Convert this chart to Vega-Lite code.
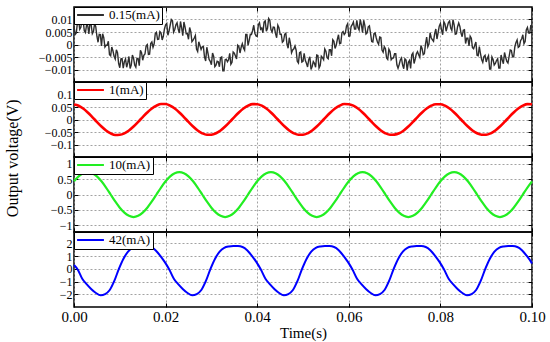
{
 "$schema": "https://vega.github.io/schema/vega-lite/v6.json",
 "background": "white",
 "padding": 5,
 "spacing": 0,
 "bounds": "flush",
 "title": {"text": "Output voltage(V)", "orient": "left", "anchor": "middle", "fontSize": 16, "font": "Liberation Serif", "fontWeight": "normal", "color": "black", "offset": 8, "dx": 15},
 "config": {
  "font": "Liberation Serif",
  "view": {"stroke": "black", "strokeWidth": 1.5},
  "concat": {"spacing": 0},
  "axis": {"domain": false, "tickColor": "black", "tickSize": -4, "tickWidth": 1, "labelColor": "black", "labelFont": "Liberation Serif", "labelFontSize": 12, "titleFont": "Liberation Serif", "titleFontWeight": "normal", "titleColor": "black", "gridColor": "#8a8a8a", "gridDash": [2, 2], "gridWidth": 0.8, "labelPadding": 6, "labelOverlap": false, "labelFlush": false},
  "axisY": {"minExtent": 44},
  "legend": {"orient": "top-left", "offset": 0, "padding": 2, "strokeColor": "black", "fillColor": "white", "symbolStrokeWidth": 2, "symbolSize": 720, "labelFontSize": 13, "labelFont": "Liberation Serif", "labelColor": "black", "labelOffset": 4, "clipHeight": 12, "cornerRadius": 0}
 },
 "resolve": {"scale": {"color": "independent"}, "legend": {"color": "independent"}},
 "datasets": {
  "gray": [
{"t":0,"v":0.0073},{"t":0.0005,"v":0.0046},{"t":0.001,"v":0.0099},{"t":0.0015,"v":0.0069},{"t":0.002,"v":0.0094},{"t":0.0025,"v":0.0048},{"t":0.003,"v":0.0075},{"t":0.0035,"v":0.0089},{"t":0.004,"v":0.0043},{"t":0.0045,"v":0.0084},
{"t":0.005,"v":0.0033},{"t":0.0055,"v":0.0041},{"t":0.006,"v":-0.0006},{"t":0.0065,"v":0.0027},{"t":0.007,"v":-0.0003},{"t":0.0075,"v":0.0013},{"t":0.008,"v":-0.0045},{"t":0.0085,"v":-0.0025},{"t":0.009,"v":-0.0058},{"t":0.0095,"v":-0.0033},
{"t":0.01,"v":-0.0093},{"t":0.0105,"v":-0.0056},{"t":0.011,"v":-0.0069},{"t":0.0115,"v":-0.0091},{"t":0.012,"v":-0.0048},{"t":0.0125,"v":-0.0082},{"t":0.013,"v":-0.0055},{"t":0.0135,"v":-0.0091},{"t":0.014,"v":-0.0056},{"t":0.0145,"v":-0.0023},
{"t":0.015,"v":-0.0063},{"t":0.0155,"v":-0.0038},{"t":0.016,"v":0},{"t":0.0165,"v":-0.0039},{"t":0.017,"v":0.001},{"t":0.0175,"v":0.0003},{"t":0.018,"v":0.0049},{"t":0.0185,"v":0.0021},{"t":0.019,"v":0.0047},{"t":0.0195,"v":0.0033},
{"t":0.02,"v":0.0079},{"t":0.0205,"v":0.0037},{"t":0.021,"v":0.0077},{"t":0.0215,"v":0.0095},{"t":0.022,"v":0.006},{"t":0.0225,"v":0.0087},{"t":0.023,"v":0.0046},{"t":0.0235,"v":0.0067},{"t":0.024,"v":0.009},{"t":0.0245,"v":0.0043},
{"t":0.025,"v":0.0021},{"t":0.0255,"v":0.0051},{"t":0.026,"v":0.0017},{"t":0.0265,"v":0.0036},{"t":0.027,"v":-0.0028},{"t":0.0275,"v":-0.0004},{"t":0.028,"v":-0.0009},{"t":0.0285,"v":-0.005},{"t":0.029,"v":-0.0011},{"t":0.0295,"v":-0.006},
{"t":0.03,"v":-0.0081},{"t":0.0305,"v":-0.0048},{"t":0.031,"v":-0.0083},{"t":0.0315,"v":-0.0069},{"t":0.032,"v":-0.0053},{"t":0.0325,"v":-0.0105},{"t":0.033,"v":-0.0061},{"t":0.0335,"v":-0.0069},{"t":0.034,"v":-0.0035},{"t":0.0345,"v":-0.0071},
{"t":0.035,"v":-0.0035},{"t":0.0355,"v":-0.0058},{"t":0.036,"v":-0.0008},{"t":0.0365,"v":-0.0011},{"t":0.037,"v":-0.0014},{"t":0.0375,"v":0.004},{"t":0.038,"v":-0.0003},{"t":0.0385,"v":0.0041},{"t":0.039,"v":0.0056},{"t":0.0395,"v":0.0044},
{"t":0.04,"v":0.0032},{"t":0.0405,"v":0.0087},{"t":0.041,"v":0.0066},{"t":0.0415,"v":0.009},{"t":0.042,"v":0.0053},{"t":0.0425,"v":0.0104},{"t":0.043,"v":0.006},{"t":0.0435,"v":0.007},{"t":0.044,"v":0.0044},{"t":0.0445,"v":0.0077},
{"t":0.045,"v":0.0041},{"t":0.0455,"v":0.0009},{"t":0.046,"v":0.0041},{"t":0.0465,"v":0.0002},{"t":0.047,"v":0.0027},{"t":0.0475,"v":-0.0033},{"t":0.048,"v":-0.0017},{"t":0.0485,"v":-0.0023},{"t":0.049,"v":-0.0074},{"t":0.0495,"v":-0.003},
{"t":0.05,"v":-0.0067},{"t":0.0505,"v":-0.0063},{"t":0.051,"v":-0.009},{"t":0.0515,"v":-0.0049},{"t":0.052,"v":-0.0088},{"t":0.0525,"v":-0.0075},{"t":0.053,"v":-0.0042},{"t":0.0535,"v":-0.0094},{"t":0.054,"v":-0.0047},{"t":0.0545,"v":-0.0061},
{"t":0.055,"v":-0.0027},{"t":0.0555,"v":-0.0057},{"t":0.056,"v":-0.0021},{"t":0.0565,"v":0.0019},{"t":0.057,"v":-0.0016},{"t":0.0575,"v":0.002},{"t":0.058,"v":0.0003},{"t":0.0585,"v":0.0047},{"t":0.059,"v":0.004},{"t":0.0595,"v":0.0074},
{"t":0.06,"v":0.0033},{"t":0.0605,"v":0.0072},{"t":0.061,"v":0.009},{"t":0.0615,"v":0.0062},{"t":0.062,"v":0.0068},{"t":0.0625,"v":0.01},{"t":0.063,"v":0.0047},{"t":0.0635,"v":0.0077},{"t":0.064,"v":0.0046},{"t":0.0645,"v":0.0075},
{"t":0.065,"v":0.0012},{"t":0.0655,"v":0.0043},{"t":0.066,"v":0.0026},{"t":0.0665,"v":0.0001},{"t":0.067,"v":0.0028},{"t":0.0675,"v":-0.0031},{"t":0.068,"v":-0.0017},{"t":0.0685,"v":-0.006},{"t":0.069,"v":-0.0028},{"t":0.0695,"v":-0.0055},
{"t":0.07,"v":-0.0037},{"t":0.0705,"v":-0.0081},{"t":0.071,"v":-0.008},{"t":0.0715,"v":-0.0054},{"t":0.072,"v":-0.0097},{"t":0.0725,"v":-0.0062},{"t":0.073,"v":-0.0071},{"t":0.0735,"v":-0.0096},{"t":0.074,"v":-0.0034},{"t":0.0745,"v":-0.0058},
{"t":0.075,"v":-0.0029},{"t":0.0755,"v":-0.0051},{"t":0.076,"v":-0.0016},{"t":0.0765,"v":-0.0037},{"t":0.077,"v":0.003},{"t":0.0775,"v":0.0002},{"t":0.078,"v":0.0027},{"t":0.0785,"v":0.0013},{"t":0.079,"v":0.0062},{"t":0.0795,"v":0.0047},
{"t":0.08,"v":0.0084},{"t":0.0805,"v":0.0039},{"t":0.081,"v":0.0082},{"t":0.0815,"v":0.0071},{"t":0.082,"v":0.0094},{"t":0.0825,"v":0.0056},{"t":0.083,"v":0.0079},{"t":0.0835,"v":0.0043},{"t":0.084,"v":0.0086},{"t":0.0845,"v":0.0046},
{"t":0.085,"v":0.0057},{"t":0.0855,"v":0.0004},{"t":0.086,"v":0.0025},{"t":0.0865,"v":0.0033},{"t":0.087,"v":-0.0013},{"t":0.0875,"v":-0.0003},{"t":0.088,"v":-0.0043},{"t":0.0885,"v":-0.0008},{"t":0.089,"v":-0.006},{"t":0.0895,"v":-0.0048},
{"t":0.09,"v":-0.007},{"t":0.0905,"v":-0.0045},{"t":0.091,"v":-0.0098},{"t":0.0915,"v":-0.006},{"t":0.092,"v":-0.0076},{"t":0.0925,"v":-0.0057},{"t":0.093,"v":-0.0094},{"t":0.0935,"v":-0.0061},{"t":0.094,"v":-0.0032},{"t":0.0945,"v":-0.0068},
{"t":0.095,"v":-0.0048},{"t":0.0955,"v":-0.0024},{"t":0.096,"v":-0.0049},{"t":0.0965,"v":0.0008},{"t":0.097,"v":-0.0012},{"t":0.0975,"v":0.0015},{"t":0.098,"v":0.0039},{"t":0.0985,"v":0.0012},{"t":0.099,"v":0.0068},{"t":0.0995,"v":0.0045},
{"t":0.1,"v":0.0065},
{"t":0.00025,"v":0.004},{"t":0.00075,"v":0.0087},{"t":0.00125,"v":0.0061},{"t":0.00175,"v":0.0104},{"t":0.00225,"v":0.0055},{"t":0.00275,"v":0.0079},{"t":0.00325,"v":0.0042},{"t":0.00375,"v":0.0078},{"t":0.00425,"v":0.0052},{"t":0.00475,"v":0.0071},
{"t":0.00525,"v":0.0009},{"t":0.00575,"v":0.004},{"t":0.00625,"v":0.0043},{"t":0.00675,"v":-0.001},{"t":0.00725,"v":-0.0003},{"t":0.00775,"v":-0.0041},{"t":0.00825,"v":-0.001},{"t":0.00875,"v":-0.0047},{"t":0.00925,"v":-0.0021},{"t":0.00975,"v":-0.0076},
{"t":0.01025,"v":-0.0057},{"t":0.01075,"v":-0.0095},{"t":0.01125,"v":-0.0058},{"t":0.01175,"v":-0.0073},{"t":0.01225,"v":-0.0096},{"t":0.01275,"v":-0.0042},{"t":0.01325,"v":-0.0082},{"t":0.01375,"v":-0.0055},{"t":0.01425,"v":-0.0085},{"t":0.01475,"v":-0.0033},
{"t":0.01525,"v":-0.0043},{"t":0.01575,"v":-0.0005},{"t":0.01625,"v":-0.004},{"t":0.01675,"v":0.0004},{"t":0.01725,"v":-0.0011},{"t":0.01775,"v":0.0044},{"t":0.01825,"v":0.002},{"t":0.01875,"v":0.0052},{"t":0.01925,"v":0.0018},{"t":0.01975,"v":0.0062},
{"t":0.02025,"v":0.0084},{"t":0.02075,"v":0.0054},{"t":0.02125,"v":0.01},{"t":0.02175,"v":0.005},{"t":0.02225,"v":0.0079},{"t":0.02275,"v":0.0062},{"t":0.02325,"v":0.0092},{"t":0.02375,"v":0.0035},{"t":0.02425,"v":0.0069},{"t":0.02475,"v":0.0043},
{"t":0.02525,"v":0.0068},{"t":0.02575,"v":0.0011},{"t":0.02625,"v":0.0026},{"t":0.02675,"v":-0.0018},{"t":0.02725,"v":0.0011},{"t":0.02775,"v":-0.002},{"t":0.02825,"v":-0.0008},{"t":0.02875,"v":-0.0066},{"t":0.02925,"v":-0.0035},{"t":0.02975,"v":-0.0067},
{"t":0.03025,"v":-0.0034},{"t":0.03075,"v":-0.0089},{"t":0.03125,"v":-0.0067},{"t":0.03175,"v":-0.0089},{"t":0.03225,"v":-0.005},{"t":0.03275,"v":-0.0105},{"t":0.03325,"v":-0.0059},{"t":0.03375,"v":-0.0061},{"t":0.03425,"v":-0.0079},{"t":0.03475,"v":-0.003},
{"t":0.03525,"v":-0.0046},{"t":0.03575,"v":-0.0003},{"t":0.03625,"v":-0.0034},{"t":0.03675,"v":0.0003},{"t":0.03725,"v":-0.0023},{"t":0.03775,"v":0.004},{"t":0.03825,"v":0.0017},{"t":0.03875,"v":0.004},{"t":0.03925,"v":0.0077},{"t":0.03975,"v":0.0034},
{"t":0.04025,"v":0.0079},{"t":0.04075,"v":0.0061},{"t":0.04125,"v":0.0047},{"t":0.04175,"v":0.0095},{"t":0.04225,"v":0.0065},{"t":0.04275,"v":0.0097},{"t":0.04325,"v":0.005},{"t":0.04375,"v":0.0069},{"t":0.04425,"v":0.0027},{"t":0.04475,"v":0.0067},
{"t":0.04525,"v":0.0041},{"t":0.04575,"v":0.0014},{"t":0.04625,"v":0.0045},{"t":0.04675,"v":-0.0015},{"t":0.04725,"v":0.0005},{"t":0.04775,"v":-0.0022},{"t":0.04825,"v":-0.0006},{"t":0.04875,"v":-0.0067},{"t":0.04925,"v":-0.0033},{"t":0.04975,"v":-0.007},
{"t":0.05025,"v":-0.0035},{"t":0.05075,"v":-0.0075},{"t":0.05125,"v":-0.0061},{"t":0.05175,"v":-0.01},{"t":0.05225,"v":-0.0068},{"t":0.05275,"v":-0.0091},{"t":0.05325,"v":-0.0044},{"t":0.05375,"v":-0.0084},{"t":0.05425,"v":-0.0053},{"t":0.05475,"v":-0.0018},
{"t":0.05525,"v":-0.0053},{"t":0.05575,"v":-0.0021},{"t":0.05625,"v":-0.0045},{"t":0.05675,"v":0.0013},{"t":0.05725,"v":-0.0003},{"t":0.05775,"v":0.0039},{"t":0.05825,"v":0.0005},{"t":0.05875,"v":0.0052},{"t":0.05925,"v":0.0046},{"t":0.05975,"v":0.0083},
{"t":0.06025,"v":0.0034},{"t":0.06075,"v":0.0079},{"t":0.06125,"v":0.0062},{"t":0.06175,"v":0.0097},{"t":0.06225,"v":0.0058},{"t":0.06275,"v":0.0079},{"t":0.06325,"v":0.0097},{"t":0.06375,"v":0.0042},{"t":0.06425,"v":0.0071},{"t":0.06475,"v":0.0044},
{"t":0.06525,"v":0.001},{"t":0.06575,"v":0.0046},{"t":0.06625,"v":0.001},{"t":0.06675,"v":0.003},{"t":0.06725,"v":-0.0022},{"t":0.06775,"v":-0.0009},{"t":0.06825,"v":-0.0054},{"t":0.06875,"v":-0.0019},{"t":0.06925,"v":-0.0061},{"t":0.06975,"v":-0.0054},
{"t":0.07025,"v":-0.0037},{"t":0.07075,"v":-0.0095},{"t":0.07125,"v":-0.0062},{"t":0.07175,"v":-0.0082},{"t":0.07225,"v":-0.0057},{"t":0.07275,"v":-0.0104},{"t":0.07325,"v":-0.0064},{"t":0.07375,"v":-0.0041},{"t":0.07425,"v":-0.0076},{"t":0.07475,"v":-0.0037},
{"t":0.07525,"v":-0.0041},{"t":0.07575,"v":-0.0004},{"t":0.07625,"v":-0.0041},{"t":0.07675,"v":0.0002},{"t":0.07725,"v":-0.0009},{"t":0.07775,"v":0.0047},{"t":0.07825,"v":0.0019},{"t":0.07875,"v":0.0043},{"t":0.07925,"v":0.0022},{"t":0.07975,"v":0.0073},
{"t":0.08025,"v":0.0058},{"t":0.08075,"v":0.0091},{"t":0.08125,"v":0.0053},{"t":0.08175,"v":0.0088},{"t":0.08225,"v":0.0066},{"t":0.08275,"v":0.0099},{"t":0.08325,"v":0.0041},{"t":0.08375,"v":0.0071},{"t":0.08425,"v":0.0072},{"t":0.08475,"v":0.0031},
{"t":0.08525,"v":0.0059},{"t":0.08575,"v":0.0025},{"t":0.08625,"v":-0.0006},{"t":0.08675,"v":0.0025},{"t":0.08725,"v":-0.0017},{"t":0.08775,"v":0.001},{"t":0.08825,"v":-0.0045},{"t":0.08875,"v":-0.0037},{"t":0.08925,"v":-0.0071},{"t":0.08975,"v":-0.0043},
{"t":0.09025,"v":-0.0055},{"t":0.09075,"v":-0.0098},{"t":0.09125,"v":-0.005},{"t":0.09175,"v":-0.0082},{"t":0.09225,"v":-0.0064},{"t":0.09275,"v":-0.0094},{"t":0.09325,"v":-0.0042},{"t":0.09375,"v":-0.0077},{"t":0.09425,"v":-0.0051},{"t":0.09475,"v":-0.0074},
{"t":0.09525,"v":-0.0022},{"t":0.09575,"v":-0.0049},{"t":0.09625,"v":-0.001},{"t":0.09675,"v":0.0018},{"t":0.09725,"v":-0.0008},{"t":0.09775,"v":0.0023},{"t":0.09825,"v":0.0003},{"t":0.09875,"v":0.0058},{"t":0.09925,"v":0.0046},{"t":0.09975,"v":0.0078}
  ],
  "red": [
{"t":0,"v":0.0600},{"t":0.001,"v":0.0552},{"t":0.002,"v":0.0438},{"t":0.003,"v":0.0281},{"t":0.004,"v":0.0097},{"t":0.005,"v":-0.0097},{"t":0.006,"v":-0.0281},{"t":0.007,"v":-0.0438},{"t":0.008,"v":-0.0552},{"t":0.009,"v":-0.0622},
{"t":0.01,"v":-0.0612},{"t":0.011,"v":-0.0552},{"t":0.012,"v":-0.0438},{"t":0.013,"v":-0.0281},{"t":0.014,"v":-0.0097},{"t":0.015,"v":0.0097},{"t":0.016,"v":0.0281},{"t":0.017,"v":0.0438},{"t":0.018,"v":0.0552},{"t":0.019,"v":0.0622},
{"t":0.02,"v":0.0618},{"t":0.021,"v":0.0552},{"t":0.022,"v":0.0438},{"t":0.023,"v":0.0281},{"t":0.024,"v":0.0097},{"t":0.025,"v":-0.0097},{"t":0.026,"v":-0.0281},{"t":0.027,"v":-0.0438},{"t":0.028,"v":-0.0552},{"t":0.029,"v":-0.0612},
{"t":0.03,"v":-0.0608},{"t":0.031,"v":-0.0552},{"t":0.032,"v":-0.0438},{"t":0.033,"v":-0.0281},{"t":0.034,"v":-0.0097},{"t":0.035,"v":0.0097},{"t":0.036,"v":0.0281},{"t":0.037,"v":0.0438},{"t":0.038,"v":0.0552},{"t":0.039,"v":0.0615},
{"t":0.04,"v":0.0612},{"t":0.041,"v":0.0552},{"t":0.042,"v":0.0438},{"t":0.043,"v":0.0281},{"t":0.044,"v":0.0097},{"t":0.045,"v":-0.0097},{"t":0.046,"v":-0.0281},{"t":0.047,"v":-0.0438},{"t":0.048,"v":-0.0552},{"t":0.049,"v":-0.0612},
{"t":0.05,"v":-0.0612},{"t":0.051,"v":-0.0552},{"t":0.052,"v":-0.0438},{"t":0.053,"v":-0.0281},{"t":0.054,"v":-0.0097},{"t":0.055,"v":0.0097},{"t":0.056,"v":0.0281},{"t":0.057,"v":0.0438},{"t":0.058,"v":0.0552},{"t":0.059,"v":0.0618},
{"t":0.06,"v":0.0612},{"t":0.061,"v":0.0552},{"t":0.062,"v":0.0438},{"t":0.063,"v":0.0281},{"t":0.064,"v":0.0097},{"t":0.065,"v":-0.0097},{"t":0.066,"v":-0.0281},{"t":0.067,"v":-0.0438},{"t":0.068,"v":-0.0552},{"t":0.069,"v":-0.0612},
{"t":0.07,"v":-0.0605},{"t":0.071,"v":-0.0552},{"t":0.072,"v":-0.0438},{"t":0.073,"v":-0.0281},{"t":0.074,"v":-0.0097},{"t":0.075,"v":0.0097},{"t":0.076,"v":0.0281},{"t":0.077,"v":0.0438},{"t":0.078,"v":0.0552},{"t":0.079,"v":0.0612},
{"t":0.08,"v":0.0612},{"t":0.081,"v":0.0552},{"t":0.082,"v":0.0438},{"t":0.083,"v":0.0281},{"t":0.084,"v":0.0097},{"t":0.085,"v":-0.0097},{"t":0.086,"v":-0.0281},{"t":0.087,"v":-0.0438},{"t":0.088,"v":-0.0552},{"t":0.089,"v":-0.0608},
{"t":0.09,"v":-0.0612},{"t":0.091,"v":-0.0552},{"t":0.092,"v":-0.0438},{"t":0.093,"v":-0.0281},{"t":0.094,"v":-0.0097},{"t":0.095,"v":0.0097},{"t":0.096,"v":0.0281},{"t":0.097,"v":0.0438},{"t":0.098,"v":0.0552},{"t":0.099,"v":0.0615},
{"t":0.1,"v":0.0612}
  ],
  "green": [
{"t":0,"v":0.429},{"t":0.001,"v":0.591},{"t":0.002,"v":0.694},{"t":0.003,"v":0.73},{"t":0.004,"v":0.694},{"t":0.005,"v":0.591},{"t":0.006,"v":0.429},{"t":0.007,"v":0.226},{"t":0.008,"v":0},{"t":0.009,"v":-0.226},
{"t":0.01,"v":-0.429},{"t":0.011,"v":-0.591},{"t":0.012,"v":-0.694},{"t":0.013,"v":-0.735},{"t":0.014,"v":-0.694},{"t":0.015,"v":-0.591},{"t":0.016,"v":-0.429},{"t":0.017,"v":-0.226},{"t":0.018,"v":0},{"t":0.019,"v":0.226},
{"t":0.02,"v":0.429},{"t":0.021,"v":0.591},{"t":0.022,"v":0.694},{"t":0.023,"v":0.73},{"t":0.024,"v":0.694},{"t":0.025,"v":0.591},{"t":0.026,"v":0.429},{"t":0.027,"v":0.226},{"t":0.028,"v":0},{"t":0.029,"v":-0.226},
{"t":0.03,"v":-0.429},{"t":0.031,"v":-0.591},{"t":0.032,"v":-0.694},{"t":0.033,"v":-0.735},{"t":0.034,"v":-0.694},{"t":0.035,"v":-0.591},{"t":0.036,"v":-0.429},{"t":0.037,"v":-0.226},{"t":0.038,"v":0},{"t":0.039,"v":0.226},
{"t":0.04,"v":0.429},{"t":0.041,"v":0.591},{"t":0.042,"v":0.694},{"t":0.043,"v":0.73},{"t":0.044,"v":0.694},{"t":0.045,"v":0.591},{"t":0.046,"v":0.429},{"t":0.047,"v":0.226},{"t":0.048,"v":0},{"t":0.049,"v":-0.226},
{"t":0.05,"v":-0.429},{"t":0.051,"v":-0.591},{"t":0.052,"v":-0.694},{"t":0.053,"v":-0.735},{"t":0.054,"v":-0.694},{"t":0.055,"v":-0.591},{"t":0.056,"v":-0.429},{"t":0.057,"v":-0.226},{"t":0.058,"v":0},{"t":0.059,"v":0.226},
{"t":0.06,"v":0.429},{"t":0.061,"v":0.591},{"t":0.062,"v":0.694},{"t":0.063,"v":0.73},{"t":0.064,"v":0.694},{"t":0.065,"v":0.591},{"t":0.066,"v":0.429},{"t":0.067,"v":0.226},{"t":0.068,"v":0},{"t":0.069,"v":-0.226},
{"t":0.07,"v":-0.429},{"t":0.071,"v":-0.591},{"t":0.072,"v":-0.694},{"t":0.073,"v":-0.735},{"t":0.074,"v":-0.694},{"t":0.075,"v":-0.591},{"t":0.076,"v":-0.429},{"t":0.077,"v":-0.226},{"t":0.078,"v":0},{"t":0.079,"v":0.226},
{"t":0.08,"v":0.429},{"t":0.081,"v":0.591},{"t":0.082,"v":0.694},{"t":0.083,"v":0.73},{"t":0.084,"v":0.694},{"t":0.085,"v":0.591},{"t":0.086,"v":0.429},{"t":0.087,"v":0.226},{"t":0.088,"v":0},{"t":0.089,"v":-0.226},
{"t":0.09,"v":-0.429},{"t":0.091,"v":-0.591},{"t":0.092,"v":-0.694},{"t":0.093,"v":-0.735},{"t":0.094,"v":-0.694},{"t":0.095,"v":-0.591},{"t":0.096,"v":-0.429},{"t":0.097,"v":-0.226},{"t":0.098,"v":0},{"t":0.099,"v":0.226},
{"t":0.1,"v":0.429}
  ],
  "blue": [
{"t":0,"v":0.3},
{"t":0.0008,"v":-0.05},{"t":0.0018,"v":-0.78},{"t":0.0028,"v":-1.22},{"t":0.0038,"v":-1.6},{"t":0.0048,"v":-1.9},{"t":0.0058,"v":-2.08},{"t":0.0068,"v":-1.98},{"t":0.0078,"v":-1.66},{"t":0.0088,"v":-0.95},{"t":0.0098,"v":0},
{"t":0.0108,"v":0.8},{"t":0.0118,"v":1.36},{"t":0.0128,"v":1.66},{"t":0.0138,"v":1.76},{"t":0.0148,"v":1.79},{"t":0.0158,"v":1.79},{"t":0.0168,"v":1.72},{"t":0.0178,"v":1.47},{"t":0.0188,"v":1.05},{"t":0.0198,"v":0.55},
{"t":0.0208,"v":-0.05},{"t":0.0218,"v":-0.78},{"t":0.0228,"v":-1.22},{"t":0.0238,"v":-1.6},{"t":0.0248,"v":-1.9},{"t":0.0258,"v":-2.08},{"t":0.0268,"v":-1.98},{"t":0.0278,"v":-1.66},{"t":0.0288,"v":-0.95},{"t":0.0298,"v":0},
{"t":0.0308,"v":0.8},{"t":0.0318,"v":1.36},{"t":0.0328,"v":1.66},{"t":0.0338,"v":1.76},{"t":0.0348,"v":1.79},{"t":0.0358,"v":1.79},{"t":0.0368,"v":1.72},{"t":0.0378,"v":1.47},{"t":0.0388,"v":1.05},{"t":0.0398,"v":0.55},
{"t":0.0408,"v":-0.05},{"t":0.0418,"v":-0.78},{"t":0.0428,"v":-1.22},{"t":0.0438,"v":-1.6},{"t":0.0448,"v":-1.9},{"t":0.0458,"v":-2.08},{"t":0.0468,"v":-1.98},{"t":0.0478,"v":-1.66},{"t":0.0488,"v":-0.95},{"t":0.0498,"v":0},
{"t":0.0508,"v":0.8},{"t":0.0518,"v":1.36},{"t":0.0528,"v":1.66},{"t":0.0538,"v":1.76},{"t":0.0548,"v":1.79},{"t":0.0558,"v":1.79},{"t":0.0568,"v":1.72},{"t":0.0578,"v":1.47},{"t":0.0588,"v":1.05},{"t":0.0598,"v":0.55},
{"t":0.0608,"v":-0.05},{"t":0.0618,"v":-0.78},{"t":0.0628,"v":-1.22},{"t":0.0638,"v":-1.6},{"t":0.0648,"v":-1.9},{"t":0.0658,"v":-2.08},{"t":0.0668,"v":-1.98},{"t":0.0678,"v":-1.66},{"t":0.0688,"v":-0.95},{"t":0.0698,"v":0},
{"t":0.0708,"v":0.8},{"t":0.0718,"v":1.36},{"t":0.0728,"v":1.66},{"t":0.0738,"v":1.76},{"t":0.0748,"v":1.79},{"t":0.0758,"v":1.79},{"t":0.0768,"v":1.72},{"t":0.0778,"v":1.47},{"t":0.0788,"v":1.05},{"t":0.0798,"v":0.55},
{"t":0.0808,"v":-0.05},{"t":0.0818,"v":-0.78},{"t":0.0828,"v":-1.22},{"t":0.0838,"v":-1.6},{"t":0.0848,"v":-1.9},{"t":0.0858,"v":-2.08},{"t":0.0868,"v":-1.98},{"t":0.0878,"v":-1.66},{"t":0.0888,"v":-0.95},{"t":0.0898,"v":0},
{"t":0.0908,"v":0.8},{"t":0.0918,"v":1.36},{"t":0.0928,"v":1.66},{"t":0.0938,"v":1.76},{"t":0.0948,"v":1.79},{"t":0.0958,"v":1.79},{"t":0.0968,"v":1.72},{"t":0.0978,"v":1.47},{"t":0.0988,"v":1.05},{"t":0.0998,"v":0.55},
{"t":0.1,"v":0.43}
  ]
 },
 "vconcat": [
  {
   "width": 458, "height": 75,
   "layer": [
    {"data": {"name": "gray"}, "mark": {"type": "line", "strokeWidth": 1.4},
     "encoding": {
      "x": {"field": "t", "type": "quantitative", "scale": {"domain": [0, 0.1], "nice": false, "zero": false}, "axis": {"values": [0, 0.02, 0.04, 0.06, 0.08, 0.1], "labels": false, "title": null, "grid": true}},
      "y": {"field": "v", "type": "quantitative", "scale": {"domain": [-0.015, 0.015], "nice": false}, "axis": {"values": [-0.01, -0.005, 0, 0.005, 0.01], "format": "~g", "title": null, "grid": true}},
      "color": {"datum": "0.15(mA)", "scale": {"range": ["#2e2e2e"]}, "legend": {"title": null}}
     }},
    {"data": {"name": "gray"}, "mark": {"type": "line", "opacity": 0},
     "encoding": {
      "x": {"field": "t", "type": "quantitative", "axis": {"orient": "top", "values": [0, 0.02, 0.04, 0.06, 0.08, 0.1], "labels": false, "title": null, "grid": false}},
      "y": {"field": "v", "type": "quantitative", "axis": {"orient": "right", "values": [-0.01, -0.005, 0, 0.005, 0.01], "labels": false, "title": null, "grid": false, "minExtent": 0}}
     }}
   ],
   "resolve": {"axis": {"x": "independent", "y": "independent"}}
  },
  {
   "width": 458, "height": 75,
   "layer": [
    {"data": {"name": "red"}, "mark": {"type": "line", "strokeWidth": 2.6, "interpolate": "monotone"},
     "encoding": {
      "x": {"field": "t", "type": "quantitative", "scale": {"domain": [0, 0.1], "nice": false, "zero": false}, "axis": {"values": [0, 0.02, 0.04, 0.06, 0.08, 0.1], "labels": false, "title": null, "grid": true}},
      "y": {"field": "v", "type": "quantitative", "scale": {"domain": [-0.15, 0.15], "nice": false}, "axis": {"values": [-0.1, -0.05, 0, 0.05, 0.1], "format": "~g", "title": null, "grid": true}},
      "color": {"datum": "1(mA)", "scale": {"range": ["#ff0000"]}, "legend": {"title": null}}
     }},
    {"data": {"name": "red"}, "mark": {"type": "line", "opacity": 0},
     "encoding": {
      "x": {"field": "t", "type": "quantitative", "axis": {"orient": "top", "values": [0, 0.02, 0.04, 0.06, 0.08, 0.1], "labels": false, "title": null, "grid": false}},
      "y": {"field": "v", "type": "quantitative", "axis": {"orient": "right", "values": [-0.1, -0.05, 0, 0.05, 0.1], "labels": false, "title": null, "grid": false, "minExtent": 0}}
     }}
   ],
   "resolve": {"axis": {"x": "independent", "y": "independent"}}
  },
  {
   "width": 458, "height": 75,
   "layer": [
    {"data": {"name": "green"}, "mark": {"type": "line", "strokeWidth": 2.2, "interpolate": "monotone"},
     "encoding": {
      "x": {"field": "t", "type": "quantitative", "scale": {"domain": [0, 0.1], "nice": false, "zero": false}, "axis": {"values": [0, 0.02, 0.04, 0.06, 0.08, 0.1], "labels": false, "title": null, "grid": true}},
      "y": {"field": "v", "type": "quantitative", "scale": {"domain": [-1.22, 1.22], "nice": false}, "axis": {"values": [-1, -0.5, 0, 0.5, 1], "format": "~g", "title": null, "grid": true}},
      "color": {"datum": "10(mA)", "scale": {"range": ["#22ee22"]}, "legend": {"title": null}}
     }},
    {"data": {"name": "green"}, "mark": {"type": "line", "opacity": 0},
     "encoding": {
      "x": {"field": "t", "type": "quantitative", "axis": {"orient": "top", "values": [0, 0.02, 0.04, 0.06, 0.08, 0.1], "labels": false, "title": null, "grid": false}},
      "y": {"field": "v", "type": "quantitative", "axis": {"orient": "right", "values": [-1, -0.5, 0, 0.5, 1], "labels": false, "title": null, "grid": false, "minExtent": 0}}
     }}
   ],
   "resolve": {"axis": {"x": "independent", "y": "independent"}}
  },
  {
   "width": 458, "height": 75,
   "layer": [
    {"data": {"name": "blue"}, "mark": {"type": "line", "strokeWidth": 2, "interpolate": "monotone"},
     "encoding": {
      "x": {"field": "t", "type": "quantitative", "scale": {"domain": [0, 0.1], "nice": false, "zero": false}, "axis": {"values": [0, 0.02, 0.04, 0.06, 0.08, 0.1], "format": ".2f", "labelFontSize": 15, "labelPadding": 6, "title": "Time(s)", "titleFontSize": 15, "titlePadding": 1, "grid": true}},
      "y": {"field": "v", "type": "quantitative", "scale": {"domain": [-3, 2.9], "nice": false}, "axis": {"values": [-2, -1, 0, 1, 2], "format": "~g", "title": null, "grid": true}},
      "color": {"datum": "42(mA)", "scale": {"range": ["#0000ff"]}, "legend": {"title": null}}
     }},
    {"data": {"name": "blue"}, "mark": {"type": "line", "opacity": 0},
     "encoding": {
      "x": {"field": "t", "type": "quantitative", "axis": {"orient": "top", "values": [0, 0.02, 0.04, 0.06, 0.08, 0.1], "labels": false, "title": null, "grid": false}},
      "y": {"field": "v", "type": "quantitative", "axis": {"orient": "right", "values": [-2, -1, 0, 1, 2], "labels": false, "title": null, "grid": false, "minExtent": 0}}
     }}
   ],
   "resolve": {"axis": {"x": "independent", "y": "independent"}}
  }
 ]
}
